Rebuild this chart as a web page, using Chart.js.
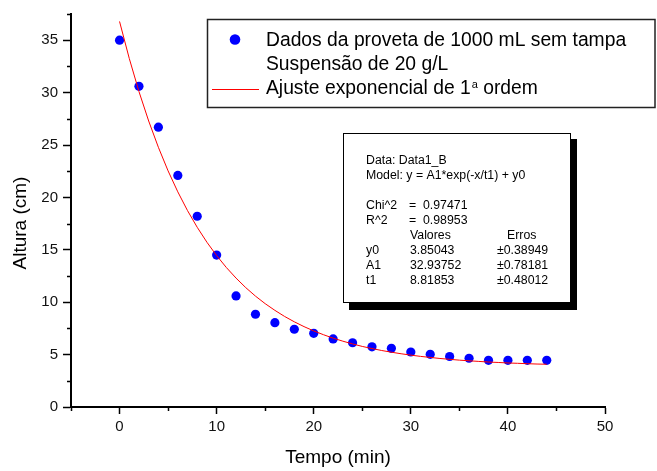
<!DOCTYPE html>
<html><head><meta charset="utf-8">
<script src="https://cdn.jsdelivr.net/npm/chart.js@4/dist/chart.umd.min.js"></script>
<style>html,body{margin:0;padding:0;background:#fff}#wrap{width:657px;height:471px}</style>
</head><body><div id="wrap"><canvas id="c" width="657" height="471"></canvas></div>
<script>
// ---- data ----
const timeMin   = [0, 2, 4, 6, 8, 10, 12, 14, 16, 18, 20, 22, 24, 26, 28, 30, 32, 34, 36, 38, 40, 42, 44];
const heightCm  = [35.0, 30.6, 26.7, 22.1, 18.2, 14.5, 10.6, 8.85, 8.05, 7.42, 7.03, 6.5, 6.13, 5.74, 5.6, 5.25, 5.03, 4.82, 4.65, 4.45, 4.45, 4.45, 4.45];
// fitted curve as drawn
const fitTime   = [0,1,2,3,4,5,6,7,8,9,10,11,12,13,14,15,16,17,18,19,20,21,22,23,24,25,26,27,28,29,30,31,32,33,34,35,36,37,38,39,40,41,42,43,44];
const fitHeight = [36.79,33.26,30.10,27.29,24.78,22.53,20.53,18.74,17.15,15.72,14.45,13.31,12.30,11.39,10.58,9.86,9.22,8.64,8.13,7.67,7.26,6.90,6.57,6.28,6.02,5.78,5.58,5.39,5.23,5.08,4.95,4.83,4.73,4.63,4.55,4.47,4.41,4.35,4.29,4.25,4.20,4.17,4.13,4.10,4.08];
const xMajorTicks = [0, 10, 20, 30, 40, 50];
const xMinorTicks = [-5, 5, 15, 25, 35, 45];
const yMajorTicks = [0, 5, 10, 15, 20, 25, 30, 35];
const yMinorTicks = [2.5, 7.5, 12.5, 17.5, 22.5, 27.5, 32.5, 37.5];
const xTitle = 'Tempo (min)';
const yTitle = 'Altura (cm)';
const legendLine1 = 'Dados da proveta de 1000 mL sem tampa';
const legendLine2 = 'Suspensão de 20 g/L';
const legendLine3a = 'Ajuste exponencial de 1';
const legendLine3sup = 'a';
const legendLine3b = ' ordem';
const statsHeader = ['Data: Data1_B', 'Model: y = A1*exp(-x/t1) + y0'];
const statsFitNames = ['Chi^2', 'R^2'];
const statsFitValues = ['=  0.97471', '=  0.98953'];
const statsColHeads = ['Valores', 'Erros'];
const paramNames  = ['y0', 'A1', 't1'];
const paramValues = ['3.85043', '32.93752', '8.81853'];
const paramErrors = ['±0.38949', '±0.78181', '±0.48012'];

const FONT = '"Liberation Sans", Arial, sans-serif';

const pts = timeMin.map((t, i) => ({x: t, y: heightCm[i]}));
const fit = fitTime.map((t, i) => ({x: t, y: fitHeight[i]}));

const decor = {
  id: 'decor',
  afterDraw(chart) {
    const ctx = chart.ctx;
    const xs = chart.scales.x, ys = chart.scales.y;
    const ax = chart.chartArea.left, ay = chart.chartArea.bottom;
    ctx.save();
    // minor ticks
    ctx.strokeStyle = '#000'; ctx.lineWidth = 1.5;
    ctx.beginPath();
    xMinorTicks.forEach(v => { const p = Math.round(xs.getPixelForValue(v)) + 0.5; ctx.moveTo(p, ay); ctx.lineTo(p, ay + 4); });
    yMinorTicks.forEach(v => { const p = Math.round(ys.getPixelForValue(v)) + 0.5; ctx.moveTo(ax, p); ctx.lineTo(ax - 4, p); });
    ctx.stroke();
    // y title
    ctx.save();
    ctx.translate(21, 223); ctx.rotate(-Math.PI / 2);
    ctx.fillStyle = '#000'; ctx.font = '19px ' + FONT; ctx.textAlign = 'center'; ctx.textBaseline = 'middle';
    ctx.fillText(yTitle, 0, 0);
    ctx.restore();
    // legend box
    ctx.fillStyle = '#fff'; ctx.fillRect(207, 19, 448, 88);
    ctx.strokeStyle = '#222'; ctx.lineWidth = 1.5; ctx.strokeRect(207.5, 19.5, 447.5, 88);
    ctx.fillStyle = '#0000ff'; ctx.beginPath(); ctx.arc(235, 39.5, 5.3, 0, Math.PI * 2); ctx.fill();
    ctx.strokeStyle = '#ff0000'; ctx.lineWidth = 1; ctx.beginPath(); ctx.moveTo(212, 89.5); ctx.lineTo(259, 89.5); ctx.stroke();
    ctx.fillStyle = '#000'; ctx.textAlign = 'left'; ctx.textBaseline = 'alphabetic';
    ctx.font = '19.3px ' + FONT;
    ctx.fillText(legendLine1, 266, 45.5);
    ctx.fillText(legendLine2, 266, 69.5);
    ctx.fillText(legendLine3a, 266, 94);
    let w = ctx.measureText(legendLine3a).width;
    ctx.font = '11px ' + FONT;
    ctx.fillText(legendLine3sup, 266 + w + 1, 87.5);
    const ws = ctx.measureText(legendLine3sup).width;
    ctx.font = '19.3px ' + FONT;
    ctx.fillText(legendLine3b, 266 + w + ws + 1, 94);
    // stats box
    ctx.fillStyle = '#000'; ctx.fillRect(349, 139, 228, 171);
    ctx.fillStyle = '#fff'; ctx.fillRect(343, 133, 228, 170);
    ctx.strokeStyle = '#000'; ctx.lineWidth = 1; ctx.strokeRect(343.5, 133.5, 227, 169);
    ctx.fillStyle = '#000'; ctx.font = '12.3px ' + FONT;
    const b0 = 163.5, lh = 15;
    ctx.fillText(statsHeader[0], 366, b0);
    ctx.fillText(statsHeader[1], 366, b0 + lh);
    statsFitNames.forEach((n, i) => { ctx.fillText(n, 366, b0 + lh * (3 + i)); ctx.fillText(statsFitValues[i], 409, b0 + lh * (3 + i)); });
    ctx.fillText(statsColHeads[0], 410, b0 + lh * 5);
    ctx.fillText(statsColHeads[1], 507, b0 + lh * 5);
    paramNames.forEach((n, i) => {
      const yb = b0 + lh * (6 + i);
      ctx.fillText(n, 366, yb); ctx.fillText(paramValues[i], 410, yb); ctx.fillText(paramErrors[i], 497, yb);
    });
    ctx.restore();
  }
};

new Chart(document.getElementById('c'), {
  type: 'scatter',
  data: {
    datasets: [
      { label: 'fit', type: 'line', data: fit, borderColor: '#ff0000', borderWidth: 1, pointRadius: 0, fill: false, tension: 0, order: 0 },
      { label: 'data', data: pts, backgroundColor: '#0000ff', borderColor: '#0000ff', borderWidth: 0, pointRadius: 4.6, order: 1 }
    ]
  },
  options: {
    responsive: false, animation: false, devicePixelRatio: 1,
    layout: { padding: { top: 12, right: 52, left: 0, bottom: 0 } },
    plugins: { legend: { display: false }, tooltip: { enabled: false } },
    scales: {
      x: {
        type: 'linear', min: -5, max: 50,
        afterBuildTicks: s => { s.ticks = xMajorTicks.map(v => ({value: v})); },
        afterFit: s => { s.height = 64; },
        grid: { drawOnChartArea: false, drawTicks: true, tickLength: 7, tickWidth: 1.5, tickColor: '#000' },
        border: { display: true, color: '#000', width: 2 },
        ticks: { color: '#111', font: { family: FONT, size: 15 }, padding: 4, maxRotation: 0 },
        title: { display: true, text: xTitle, color: '#000', font: { family: FONT, size: 19 }, padding: { top: 0, bottom: 2 } }
      },
      y: {
        type: 'linear', min: 0, max: 37.5,
        afterBuildTicks: s => { s.ticks = yMajorTicks.map(v => ({value: v})); },
        afterFit: s => { s.width = 71; },
        grid: { drawOnChartArea: false, drawTicks: true, tickLength: 8, tickWidth: 1.5, tickColor: '#000' },
        border: { display: true, color: '#000', width: 2 },
        ticks: { color: '#111', font: { family: FONT, size: 15 }, padding: 5 }
      }
    }
  },
  plugins: [decor]
});
</script></body></html>
